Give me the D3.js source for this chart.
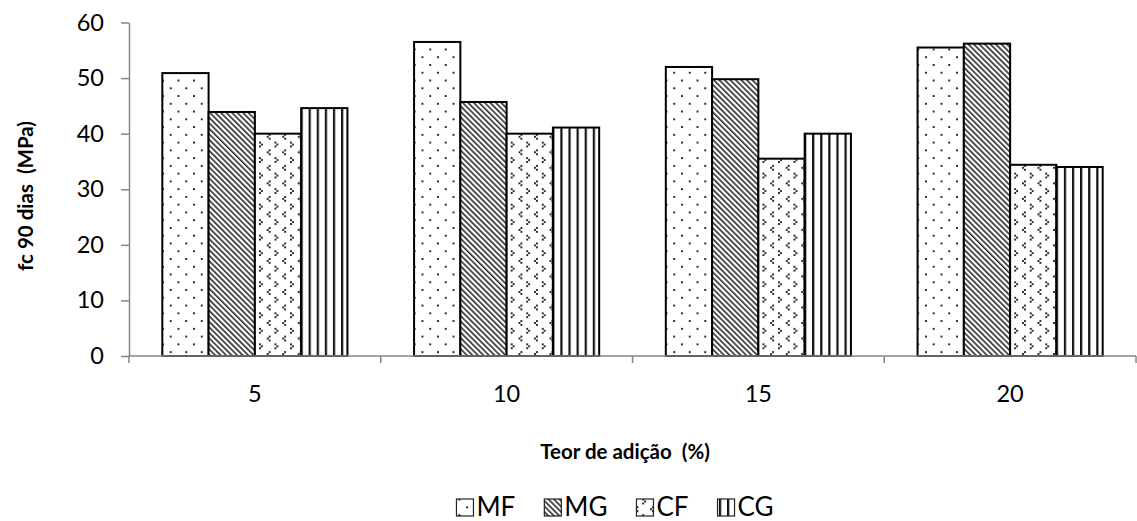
<!DOCTYPE html>
<html>
<head>
<meta charset="utf-8">
<script src="https://cdn.jsdelivr.net/npm/d3@7"></script>
<style>
  html, body { margin: 0; padding: 0; background: #fff; }
  svg { display: block; font-family: Lato, "Open Sans", sans-serif; }
  .title { white-space: pre; }
</style>
</head>
<body>
<svg id="chart" width="1137" height="521"></svg>
<script>
// Compressive strength at 90 days by addition content
const categories = ["5", "10", "15", "20"];
const series = ["MF", "MG", "CF", "CG"];
const valuesMF = [50.9, 56.5, 52.0, 55.5];
const valuesMG = [43.9, 45.7, 49.8, 56.2];
const valuesCF = [40.0, 40.0, 35.5, 34.4];
const valuesCG = [44.6, 41.1, 40.0, 34.0];
const yTicks = [0, 10, 20, 30, 40, 50, 60];
const yTitle = "fc 90 dias  (MPa)";
const xTitle = "Teor de adição  (%)";

const seriesValues = { MF: valuesMF, MG: valuesMG, CF: valuesCF, CG: valuesCG };

const svg = d3.select("#chart");
const plot = { left: 129, right: 1136, top: 22.5, bottom: 356 };
const axisColor = "#868686";

const x0 = d3.scaleBand().domain(categories).range([plot.left, plot.right]).paddingInner(0).paddingOuter(0);
const x1 = d3.scaleBand().domain(series).range([0, x0.bandwidth()]).paddingInner(0).paddingOuter(0.72);
const y = d3.scaleLinear().domain([0, 60]).range([plot.bottom, plot.top]);

// ---- fill patterns (pixel-style hatches) ----
const defs = svg.append("defs");
const s = 1.94;          // size of one pattern "pixel"
const tile = 8 * s;
const ink = "#2a2a2a";

function pixelPattern(id, pixels) {
  const p = defs.append("pattern").attr("id", id)
    .attr("patternUnits", "userSpaceOnUse")
    .attr("width", tile).attr("height", tile);
  p.append("rect").attr("width", tile).attr("height", tile).attr("fill", "#fff");
  p.selectAll("rect.px").data(pixels).join("rect").attr("class", "px")
    .attr("x", d => d[0] * s).attr("y", d => d[1] * s)
    .attr("width", s).attr("height", s).attr("fill", ink);
}
// sparse dots
pixelPattern("pat-MF", [[1, 1], [5, 5]]);
// small chevrons
pixelPattern("pat-CF", [[3, 1], [4, 2], [3, 3], [0, 5], [7, 6], [0, 7]]);

// downward diagonal stripes
{
  const w = 3.9;
  const p = defs.append("pattern").attr("id", "pat-MG")
    .attr("patternUnits", "userSpaceOnUse")
    .attr("width", w).attr("height", w)
    .attr("patternTransform", "rotate(-45)");
  p.append("rect").attr("width", w).attr("height", w).attr("fill", "#fff");
  p.append("rect").attr("x", 0).attr("width", 1.6).attr("height", w).attr("fill", ink);
}
// vertical stripes
{
  const w = 8.1;
  const p = defs.append("pattern").attr("id", "pat-CG")
    .attr("patternUnits", "userSpaceOnUse")
    .attr("width", w).attr("height", 10)
    .attr("x", plot.left + 2);
  p.append("rect").attr("width", w).attr("height", 10).attr("fill", "#fff");
  p.append("rect").attr("x", 0).attr("width", 2.2).attr("height", 10).attr("fill", "#111");
}

// ---- bars ----
const groups = svg.append("g").selectAll("g")
  .data(categories).join("g")
  .attr("transform", d => `translate(${x0(d)},0)`);

groups.selectAll("rect")
  .data((c, i) => series.map(k => ({ key: k, value: seriesValues[k][i] })))
  .join("rect")
  .attr("x", d => x1(d.key))
  .attr("y", d => y(d.value))
  .attr("width", x1.bandwidth())
  .attr("height", d => y(0) - y(d.value))
  .attr("fill", d => `url(#pat-${d.key})`)
  .attr("stroke", "#000")
  .attr("stroke-width", 2);

// ---- y axis ----
const yAxis = svg.append("g")
  .attr("transform", `translate(${plot.left},0)`)
  .call(d3.axisLeft(y).tickValues(yTicks).tickSize(8).tickPadding(17).tickSizeOuter(0));
yAxis.select(".domain").attr("stroke", axisColor).attr("stroke-width", 1.5);
yAxis.selectAll(".tick line").attr("stroke", axisColor).attr("stroke-width", 1.5);
yAxis.selectAll(".tick text").attr("font-size", 23.5).attr("fill", "#000")
  .attr("font-family", "Lato, sans-serif");

// ---- x axis (ticks at category boundaries) ----
const xAxis = svg.append("g");
xAxis.append("line")
  .attr("x1", plot.left).attr("x2", plot.right)
  .attr("y1", y(0)).attr("y2", y(0))
  .attr("stroke", axisColor).attr("stroke-width", 1.5);
const bounds = categories.map(c => x0(c)).concat([x0(categories[categories.length - 1]) + x0.bandwidth()]);
xAxis.selectAll("line.tk").data(bounds).join("line").attr("class", "tk")
  .attr("x1", d => d).attr("x2", d => d)
  .attr("y1", y(0)).attr("y2", y(0) + 7)
  .attr("stroke", axisColor).attr("stroke-width", 1.5);
xAxis.selectAll("text").data(categories).join("text")
  .attr("x", d => x0(d) + x0.bandwidth() / 2)
  .attr("y", 402)
  .attr("text-anchor", "middle")
  .attr("font-size", 23.5)
  .attr("fill", "#000")
  .text(d => d);

// ---- axis titles ----
svg.append("text")
  .attr("class", "title")
  .attr("transform", "translate(33,196) rotate(-90)")
  .attr("text-anchor", "middle")
  .attr("font-size", 20.5)
  .attr("font-weight", "bold")
  .attr("fill", "#000")
  .text(yTitle);

svg.append("text")
  .attr("class", "title")
  .attr("x", 625).attr("y", 459)
  .attr("text-anchor", "middle")
  .attr("font-size", 20.5)
  .attr("font-weight", "bold")
  .attr("fill", "#000")
  .text(xTitle);

// ---- legend: entries laid out one after another, centred as a block ----
const boxSize = 17, boxGap = 3, entryGap = 29, legendCenter = 615;
const legend = svg.append("g");
const entries = legend.selectAll("g").data(series).join("g");
entries.append("rect")
  .attr("x", 0).attr("y", 499).attr("width", boxSize).attr("height", boxSize)
  .attr("fill", d => `url(#pat-${d})`)
  .attr("stroke", "#222").attr("stroke-width", 1.2);
entries.append("text")
  .attr("x", boxSize + boxGap).attr("y", 516)
  .attr("font-size", 26)
  .attr("fill", "#000")
  .text(d => d);
let cursor = 0;
const offsets = [];
entries.each(function () {
  offsets.push(cursor);
  cursor += boxSize + boxGap + d3.select(this).select("text").node().getComputedTextLength() + entryGap;
});
const total = cursor - entryGap;
entries.attr("transform", (d, i) => `translate(${legendCenter - total / 2 + offsets[i]},0)`);
</script>
</body>
</html>
